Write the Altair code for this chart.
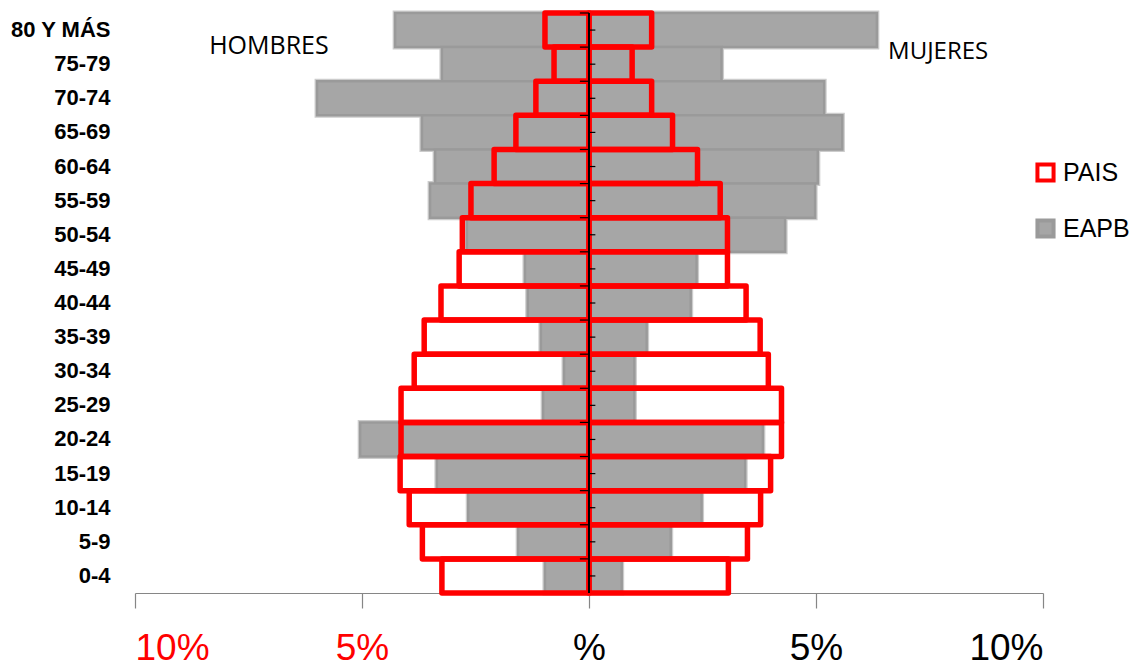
import altair as alt
import pandas as pd

ages = ["80 Y MÁS", "75-79", "70-74", "65-69", "60-64", "55-59", "50-54", "45-49",
        "40-44", "35-39", "30-34", "25-29", "20-24", "15-19", "10-14", "5-9", "0-4"]
eapb_hombres = [4.27, 3.24, 5.99, 3.68, 3.39, 3.50, 2.69, 1.41, 1.35, 1.06, 0.55, 1.01, 5.04, 3.35, 2.66, 1.56, 0.97]
eapb_mujeres = [6.34, 2.92, 5.18, 5.58, 5.04, 4.98, 4.32, 2.37, 2.24, 1.27, 1.00, 1.00, 3.83, 3.44, 2.48, 1.80, 0.72]
pais_hombres = [0.97, 0.77, 1.17, 1.61, 2.09, 2.60, 2.79, 2.86, 3.26, 3.63, 3.85, 4.14, 4.14, 4.16, 3.96, 3.67, 3.24]
pais_mujeres = [1.38, 0.95, 1.38, 1.84, 2.39, 2.89, 3.05, 3.05, 3.46, 3.77, 3.95, 4.24, 4.24, 4.00, 3.78, 3.49, 3.07]
series_names = ["PAIS", "EAPB"]
x_ticks = [-10, -5, 0, 5, 10]
side_labels = ["HOMBRES", "MUJERES"]
side_label_x = [-7.05, 7.69]

rows = []
for i, a in enumerate(ages):
    rows.append({"age": a, "series": "EAPB", "value": -eapb_hombres[i]})
    rows.append({"age": a, "series": "EAPB", "value": eapb_mujeres[i]})
    rows.append({"age": a, "series": "PAIS", "value": -pais_hombres[i]})
    rows.append({"age": a, "series": "PAIS", "value": pais_mujeres[i]})
df = pd.DataFrame(rows)
df["zero"] = 0.0

SANS = "Liberation Sans, Arial, sans-serif"

xscale = alt.Scale(domain=[-10, 10], nice=False, zero=False)
yscale = alt.Scale(domain=ages, paddingInner=0, paddingOuter=0)
fill_scale = alt.Scale(domain=series_names, range=["transparent", "#a6a6a6"])
stroke_scale = alt.Scale(domain=series_names, range=["#ff0000", "#9a9a9a"])

x_axis = alt.Axis(
    values=x_ticks, title=None, grid=False,
    labelExpr="datum.value == 0 ? '%' : abs(datum.value) + '%'",
    labelColor={"condition": {"test": "datum.value < 0", "value": "#ff0000"}, "value": "#000000"},
    labelFont=SANS, labelFontSize=37, labelPadding=22,
    domainColor="#868686", tickColor="#868686", tickSize=15, domainWidth=1.2, tickWidth=1.2,
)
y_axis = alt.Axis(
    title=None, domain=False, ticks=False, labelPadding=25,
    labelFont=SANS, labelFontSize=22, labelFontWeight="bold", labelColor="#000000",
)

base = alt.Chart(df)

gray_halo = base.transform_filter(alt.datum.series == "EAPB").mark_bar(
    fill="#a6a6a6", stroke="#cccccc", strokeWidth=5).encode(
    x=alt.X("value:Q", scale=xscale, axis=x_axis),
    x2="zero:Q",
    y=alt.Y("age:N", scale=yscale, axis=y_axis, sort=ages),
)

gray = base.transform_filter(alt.datum.series == "EAPB").mark_bar(strokeWidth=2.5).encode(
    x=alt.X("value:Q", scale=xscale),
    x2="zero:Q",
    y=alt.Y("age:N", scale=yscale, sort=ages),
    fill=alt.Fill("series:N", scale=fill_scale, title=None),
    stroke=alt.Stroke("series:N", scale=stroke_scale, title=None),
)

red = base.transform_filter(alt.datum.series == "PAIS").mark_bar(strokeWidth=5.5, strokeJoin="round").encode(
    x=alt.X("value:Q", scale=xscale),
    x2="zero:Q",
    y=alt.Y("age:N", scale=yscale, sort=ages),
    fill=alt.Fill("series:N", scale=fill_scale, title=None),
    stroke=alt.Stroke("series:N", scale=stroke_scale, title=None),
)

tick_df = pd.DataFrame({"age": ages, "x0": [0.0] * len(ages), "xl": [-0.2] * len(ages), "xr": [0.14] * len(ages)})
center = alt.Chart(tick_df).mark_rule(color="#000000", strokeWidth=1.2).encode(x=alt.datum(0))
left_ticks = alt.Chart(tick_df).mark_rule(color="#000000", strokeWidth=1.2, yOffset=-17.06).encode(
    x=alt.X("xl:Q", scale=xscale), x2="x0:Q", y=alt.Y("age:N", scale=yscale, sort=ages))
right_ticks = alt.Chart(tick_df).mark_rule(color="#000000", strokeWidth=1.2).encode(
    x=alt.X("x0:Q", scale=xscale), x2="xr:Q", y=alt.Y("age:N", scale=yscale, sort=ages))

text_df = pd.DataFrame({"label": side_labels, "x": side_label_x, "age": [ages[0], ages[0]]})
hombres = alt.Chart(text_df.iloc[[0]]).mark_text(font="Open Sans", fontSize=25, color="#000000", dy=16).encode(
    x=alt.X("x:Q", scale=xscale),
    y=alt.Y("age:N", scale=yscale, sort=ages),
    text="label:N",
)
mujeres = alt.Chart(text_df.iloc[[1]]).mark_text(font="Open Sans", fontSize=24, color="#000000", dy=22).encode(
    x=alt.X("x:Q", scale=xscale),
    y=alt.Y("age:N", scale=yscale, sort=ages),
    text="label:N",
)

chart = alt.layer(gray_halo, gray, red, center, left_ticks, right_ticks, hombres, mujeres).resolve_scale(
    x="shared", y="shared"
).properties(
    width=908, height=580,
    padding={"left": 135, "top": 13, "right": 92, "bottom": 78},
    autosize=alt.AutoSizeParams(type="none"),
).configure_view(stroke=None).configure_legend(
    orient="none", legendX=898, legendY=147,
    symbolType="square", symbolSize=260, symbolStrokeWidth=4,
    labelFont=SANS, labelFontSize=25, labelColor="#000000",
    rowPadding=23, labelOffset=5, title=None,
)

chart.save("out.html", embed_options={"renderer": "svg", "actions": False})
